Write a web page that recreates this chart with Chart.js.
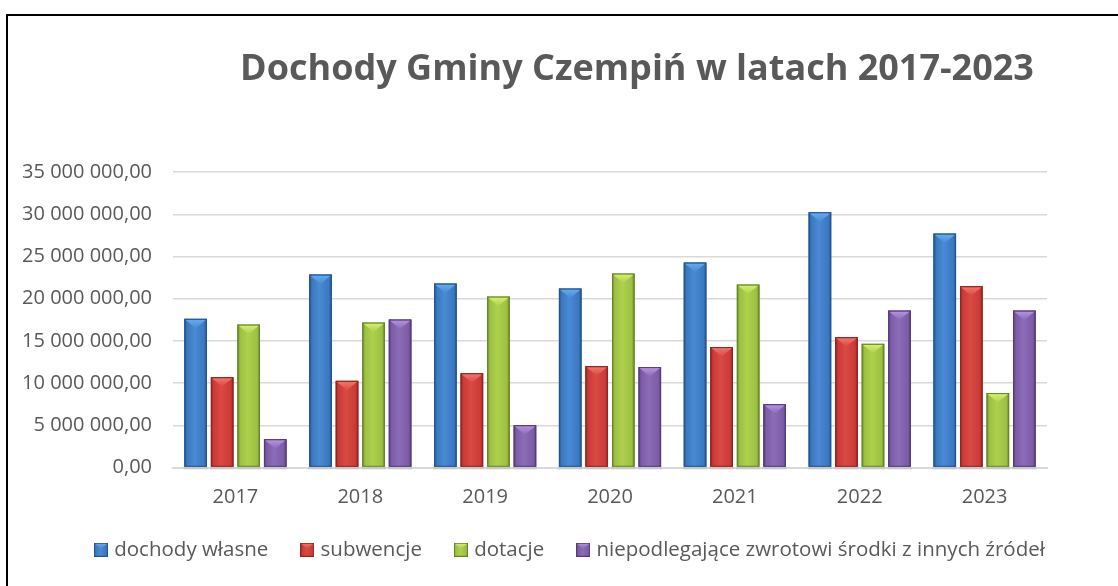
<!DOCTYPE html>
<html><head><meta charset="utf-8">
<script src="https://cdn.jsdelivr.net/npm/chart.js@4.4.1/dist/chart.umd.min.js"></script>
<style>
html,body{margin:0;padding:0;background:#fff;}
#wrap{position:relative;width:1118px;height:586px;overflow:hidden;}
#frame{position:absolute;left:6px;top:14px;right:-4px;bottom:-4px;border-left:2px solid #000;border-top:2px solid #000;pointer-events:none;}
canvas{position:absolute;left:0;top:0;}
</style></head><body>
<div id="wrap"><div id="frame"></div><canvas id="c" width="1118" height="586"></canvas></div>
<script>
// ---- data ----
const years = ['2017', '2018', '2019', '2020', '2021', '2022', '2023'];
const dochodyWlasne = [17620000, 22870000, 21800000, 21210000, 24290000, 30260000, 27720000];
const subwencje     = [10710000, 10270000, 11180000, 12010000, 14270000, 15450000, 21490000];
const dotacje       = [16940000, 17180000, 20260000, 22990000, 21680000, 14660000, 8820000];
const srodkiInne    = [3360000, 17540000, 5020000, 11900000, 7510000, 18600000, 18600000];
const seriesNames = ['dochody własne', 'subwencje', 'dotacje', 'niepodlegające zwrotowi środki z innych źródeł'];
const yTickLabels = ['0,00', '5 000 000,00', '10 000 000,00', '15 000 000,00', '20 000 000,00', '25 000 000,00', '30 000 000,00', '35 000 000,00'];
const chartTitle = 'Dochody Gminy Czempiń w latach 2017-2023';

// ---- styles ----
const FONT = '"Open Sans", "Noto Sans", sans-serif';
const TEXT = '#595959';
const palettes = [
  {mid:'#3a78c0', dark:'#24548c', light:'#66aef4', hi:'#4a8ad4'},
  {mid:'#cc3a36', dark:'#8e2522', light:'#f47a70', hi:'#d84a44'},
  {mid:'#9cc042', dark:'#66842a', light:'#d8f270', hi:'#aed04e'},
  {mid:'#7d5ca6', dark:'#553b7c', light:'#b896e6', hi:'#8c6cb8'}
];

function paintBevel(ctx, l, t, w, h, pal) {
  const r = l + w, cx = l + w / 2;
  const g = ctx.createLinearGradient(l, 0, r, 0);
  g.addColorStop(0, pal.dark);
  g.addColorStop(0.12, pal.mid);
  g.addColorStop(0.45, pal.hi);
  g.addColorStop(0.88, pal.mid);
  g.addColorStop(1, pal.dark);
  ctx.fillStyle = g;
  ctx.fillRect(l, t, w, h);
  const d = Math.min(w * 0.42, h);
  const tg = ctx.createLinearGradient(0, t, 0, t + d);
  tg.addColorStop(0, pal.light);
  tg.addColorStop(1, pal.hi);
  ctx.fillStyle = tg;
  ctx.beginPath();
  ctx.moveTo(l + 1, t + 1);
  ctx.lineTo(r - 1, t + 1);
  ctx.lineTo(cx, t + d);
  ctx.closePath();
  ctx.fill();
  ctx.strokeStyle = pal.dark;
  ctx.lineWidth = 1;
  ctx.strokeRect(l + 0.5, t + 0.5, w - 1, h - 1);
}

const legendImgs = palettes.map(p => {
  const c = document.createElement('canvas');
  c.width = 14; c.height = 14;
  paintBevel(c.getContext('2d'), 0, 0, 14, 14, p);
  return c;
});

const bevelPlugin = {
  id: 'bevel',
  afterDatasetsDraw(chart) {
    const ctx = chart.ctx;
    ctx.save();
    chart.data.datasets.forEach((ds, di) => {
      const meta = chart.getDatasetMeta(di);
      if (meta.hidden) return;
      meta.data.forEach(el => {
        const p = el.getProps(['x', 'y', 'base', 'width'], true);
        const l = p.x - p.width / 2;
        const h = p.base - p.y;
        ctx.fillStyle = 'rgba(0,0,0,0.08)';
        ctx.fillRect(l - 1, p.base, p.width + 2, 3);
        paintBevel(ctx, l, p.y, p.width, h, palettes[di]);
      });
    });
    ctx.restore();
  }
};

const shiftPlugin = {
  id: 'shift',
  afterLayout(chart) {
    const t = chart.titleBlock;
    if (t) { t.left = 156; t.right = 1118; }
    const lg = chart.legend;
    if (lg) { lg.left = 62; lg.right = 1118; }
  }
};

const seriesData = [dochodyWlasne, subwencje, dotacje, srodkiInne];

new Chart(document.getElementById('c'), {
  type: 'bar',
  data: {
    labels: years,
    datasets: seriesData.map((d, i) => ({
      label: seriesNames[i],
      data: d,
      backgroundColor: palettes[i].mid,
      borderWidth: 0,
      categoryPercentage: 0.85,
      barPercentage: 0.85
    }))
  },
  options: {
    responsive: false,
    animation: false,
    devicePixelRatio: 1,
    layout: {padding: {top: 0, right: 71, bottom: 16, left: 0}},
    plugins: {
      title: {
        display: true,
        text: chartTitle,
        color: TEXT,
        font: {family: FONT, size: 36, weight: 'bold'},
        padding: {top: 48, bottom: 81}
      },
      legend: {
        position: 'bottom',
        align: 'start',
        labels: {
          usePointStyle: true,
          pointStyleWidth: 6,
          padding: 36,
          color: TEXT,
          font: {family: FONT, size: 20.5},
          generateLabels(chart) {
            const items = Chart.defaults.plugins.legend.labels.generateLabels(chart);
            items.forEach((it, i) => { it.pointStyle = legendImgs[i]; });
            return items;
          }
        }
      },
      tooltip: {enabled: false}
    },
    scales: {
      x: {
        grid: {display: true, drawOnChartArea: false, drawTicks: false},
        border: {display: true, color: '#d9d9d9', width: 2},
        ticks: {color: TEXT, font: {family: FONT, size: 20}, padding: 18},
        afterFit(s) { s.height = 36; }
      },
      y: {
        min: 0,
        max: 35000000,
        ticks: {
          stepSize: 5000000,
          padding: 21,
          color: TEXT,
          font: {family: FONT, size: 20},
          callback: (v, i) => yTickLabels[i]
        },
        grid: {color: '#d9d9d9', lineWidth: 1.5, drawTicks: false},
        border: {display: false},
        afterFit(s) { s.width = 173; }
      }
    }
  },
  plugins: [bevelPlugin, shiftPlugin]
});
</script>
</body></html>
